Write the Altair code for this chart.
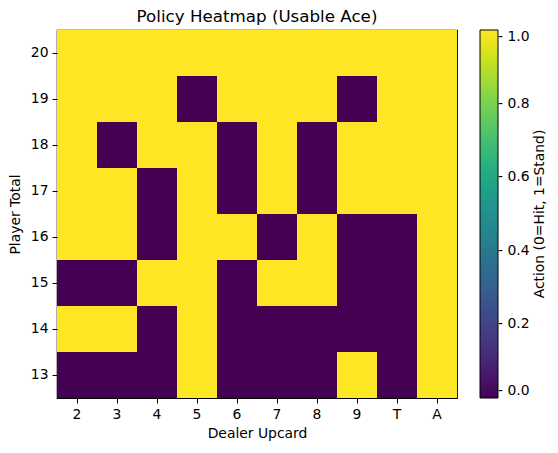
import altair as alt
import pandas as pd

dealer = ["2", "3", "4", "5", "6", "7", "8", "9", "T", "A"]
players = [20, 19, 18, 17, 16, 15, 14, 13]

row_20 = [1, 1, 1, 1, 1, 1, 1, 1, 1, 1]
row_19 = [1, 1, 1, 0, 1, 1, 1, 0, 1, 1]
row_18 = [1, 0, 1, 1, 0, 1, 0, 1, 1, 1]
row_17 = [1, 1, 0, 1, 0, 1, 0, 1, 1, 1]
row_16 = [1, 1, 0, 1, 1, 0, 1, 0, 0, 1]
row_15 = [0, 0, 1, 1, 0, 1, 1, 0, 0, 1]
row_14 = [1, 1, 0, 1, 0, 0, 0, 0, 0, 1]
row_13 = [0, 0, 0, 1, 0, 0, 0, 1, 0, 1]

rows = [row_20, row_19, row_18, row_17, row_16, row_15, row_14, row_13]
colorbar_ticks = [0.0, 0.2, 0.4, 0.6, 0.8, 1.0]
colorbar_title = "Action (0=Hit, 1=Stand)"

records = []
for p, r in zip(players, rows):
    for d, v in zip(dealer, r):
        records.append({"dealer": d, "player": p, "action": v})
df = pd.DataFrame(records)

FONT = "DejaVu Sans"
W, H = 400, 368

heat = alt.Chart(df).mark_rect().encode(
    x=alt.X("dealer:O", sort=dealer, title="Dealer Upcard",
            scale=alt.Scale(paddingInner=0, paddingOuter=0),
            axis=alt.Axis(labelAngle=0, ticks=True, tickSize=5, labelPadding=4,
                          titlePadding=6, domain=False)),
    y=alt.Y("player:O", sort=players, title="Player Total",
            scale=alt.Scale(paddingInner=0, paddingOuter=0),
            axis=alt.Axis(ticks=True, tickSize=5, labelPadding=4,
                          titlePadding=8, domain=False)),
    color=alt.Color("action:Q", scale=alt.Scale(scheme="viridis", domain=[0, 1]),
                    legend=alt.Legend(title=None, type="gradient",
                                      orient="right", direction="vertical",
                                      gradientLength=H, gradientThickness=18,
                                      gradientStrokeColor="black", gradientStrokeWidth=1,
                                      offset=23, values=colorbar_ticks,
                                      labelExpr="'- ' + format(datum.value, '.1f')",
                                      labelFontSize=13.9, labelFont=FONT,
                                      labelColor="black", labelOffset=0)),
)

cbar_label = alt.Chart(pd.DataFrame({"t": [colorbar_title]})).mark_text(
    angle=270, font=FONT, fontSize=13.9, color="black", baseline="middle", align="center"
).encode(
    text="t:N",
    x=alt.value(W + 83),
    y=alt.value(H / 2),
)

chart = alt.layer(heat, cbar_label).properties(
    width=W, height=H,
    title=alt.Title("Policy Heatmap (Usable Ace)", fontSize=16.7, font=FONT,
                    fontWeight="normal", color="black", anchor="middle", offset=4,
                    frame="group"),
    padding={"left": 49, "top": 22, "right": 93, "bottom": 45},
    autosize=alt.AutoSizeParams(type="none"),
).configure_view(
    stroke="black", strokeWidth=1.2
).configure_axis(
    labelFont=FONT, labelFontSize=13.9, labelColor="black",
    titleFont=FONT, titleFontSize=13.9, titleFontWeight="normal", titleColor="black",
    tickColor="black", grid=False
)

chart.save("out.html", embed_options={"renderer": "svg", "actions": False})
